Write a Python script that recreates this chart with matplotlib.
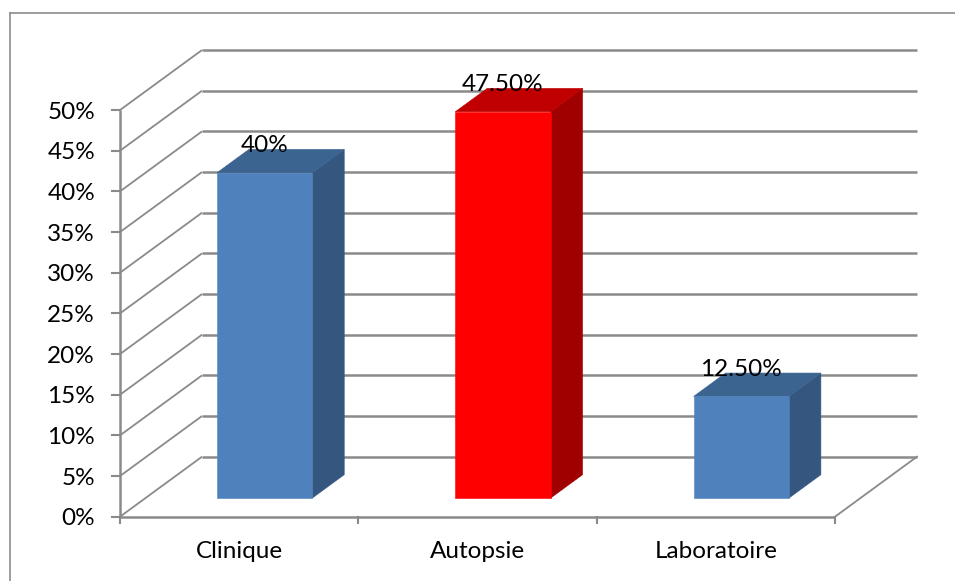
import matplotlib
matplotlib.use("Agg")
import matplotlib.pyplot as plt
from matplotlib.patches import Polygon
from matplotlib.lines import Line2D
import matplotlib.transforms as mtransforms

# Data
categories = ["Clinique", "Autopsie", "Laboratoire"]
values = [40.0, 47.5, 12.5]
value_labels = ["40%", "47.50%", "12.50%"]
y_ticks = [0, 5, 10, 15, 20, 25, 30, 35, 40, 45, 50]
y_tick_labels = [f"{t}%" for t in y_ticks]

# Bar colours (front, top, side)
blue = ("#4F81BD", "#3C6491", "#34567F")
red = ("#FF0000", "#C00000", "#A00000")
bar_colors = [blue, red, blue]

# Figure / projection layout
W, H, DPI = 955, 581, 100
X0_PX, Y0_PX = 120.0, 516.7          # origin of the front plane
PX_PER_CAT, PX_PER_PCT = 238.33, 8.133
DEPTH_PX = (82.0, 60.0)              # oblique depth offset
DX = DEPTH_PX[0] / PX_PER_CAT
DY = DEPTH_PX[1] / PX_PER_PCT
BAR_HALF = 0.2
D_FRONT, D_BACK = 0.31, 0.70
GRID = "#8A8A8A"
FONT = "Lato"
FS = 17.5

fig = plt.figure(figsize=(W / DPI, H / DPI), dpi=DPI)
ax = fig.add_axes([0, 0, 1, 1])
ax.set_xlim(-X0_PX / PX_PER_CAT, (W - X0_PX) / PX_PER_CAT)
ax.set_ylim((Y0_PX - H) / PX_PER_PCT, Y0_PX / PX_PER_PCT)
ax.axis("off")

n = len(categories)
ymax = y_ticks[-1]

# Outer chart frame (left and top edges)
fig.add_artist(Line2D([10 / W, 10 / W], [0, 1 - 13 / H], transform=fig.transFigure,
                      color="#8C8C8C", lw=1.2))
fig.add_artist(Line2D([10 / W, 1], [1 - 13 / H, 1 - 13 / H], transform=fig.transFigure,
                      color="#8C8C8C", lw=1.2))

# Walls: gridlines on left wall (diagonal) and back wall (horizontal)
for t in y_ticks:
    ax.plot([0, DX], [t, t + DY], color=GRID, lw=1.3, solid_capstyle="butt", zorder=1)
    ax.plot([DX, n + DX], [t + DY, t + DY], color=GRID, lw=1.8, solid_capstyle="butt", zorder=1)

# Floor right edge and front axes
ax.plot([n, n + DX], [0, DY], color=GRID, lw=1.3, zorder=1)
ax.plot([0, n], [0, 0], color=GRID, lw=1.8, solid_capstyle="butt", zorder=2)
ax.plot([0, 0], [0, ymax], color=GRID, lw=1.8, solid_capstyle="butt", zorder=2)

pix = mtransforms.offset_copy
# Value axis ticks and labels
for t, lab in zip(y_ticks, y_tick_labels):
    ax.plot([0, -8 / PX_PER_CAT], [t, t], color=GRID, lw=1.5, zorder=2)
    ax.text(0, t, lab, ha="right", va="center", fontsize=FS, family=FONT, color="black",
            transform=pix(ax.transData, fig=fig, x=-25, y=-2, units="dots"))

# Category axis ticks and labels
for i in range(n + 1):
    ax.plot([i, i], [0, -6 / PX_PER_PCT], color=GRID, lw=1.5, zorder=2)
for i, c in enumerate(categories):
    ax.text(i + 0.5, 0, c, ha="center", va="center", fontsize=FS, family=FONT,
            color="black",
            transform=pix(ax.transData, fig=fig, x=0, y=-35, units="dots"))

# 3D bars
for i, (v, (cf, ct, cs)) in enumerate(zip(values, bar_colors)):
    x0, x1 = i + 0.5 - BAR_HALF, i + 0.5 + BAR_HALF
    fx, fy = D_FRONT * DX, D_FRONT * DY
    bx, by = D_BACK * DX, D_BACK * DY
    front = [(x0 + fx, fy), (x1 + fx, fy), (x1 + fx, v + fy), (x0 + fx, v + fy)]
    side = [(x1 + fx, fy), (x1 + bx, by), (x1 + bx, v + by), (x1 + fx, v + fy)]
    top = [(x0 + fx, v + fy), (x1 + fx, v + fy), (x1 + bx, v + by), (x0 + bx, v + by)]
    for pts, col in ((side, cs), (top, ct), (front, cf)):
        ax.add_patch(Polygon(pts, closed=True, facecolor=col, edgecolor=col,
                             lw=0.4, zorder=5))

# Value labels above bars
for i, (v, lab) in enumerate(zip(values, value_labels)):
    ax.text(i + 0.5 + D_FRONT * DX, v + D_FRONT * DY, lab, ha="center", va="center",
            fontsize=FS, family=FONT, color="black", zorder=6,
            transform=pix(ax.transData, fig=fig, x=0, y=27, units="dots"))

fig.savefig("out.png", dpi=DPI)
